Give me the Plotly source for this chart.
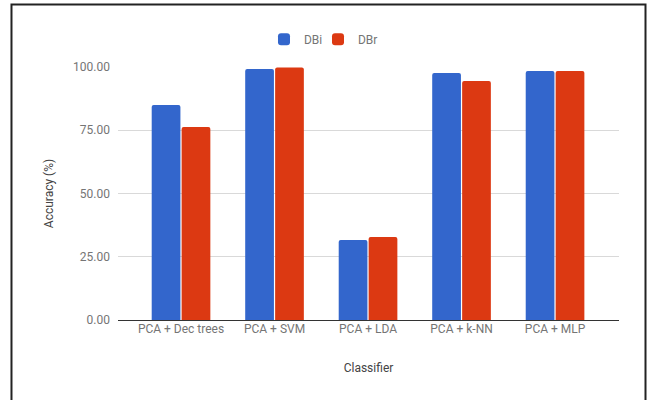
import plotly.graph_objects as go

# Classifier accuracy per database
classifiers = ["PCA + Dec trees", "PCA + SVM", "PCA + LDA", "PCA + k-NN", "PCA + MLP"]
dbi_accuracy = [85.0, 99.2, 31.6, 97.6, 98.4]
dbr_accuracy = [76.3, 99.8, 32.8, 94.5, 98.4]
y_ticks = [0, 25, 50, 75, 100]

font_family = "Roboto, Arial, sans-serif"
text_gray = "#757575"

fig = go.Figure()
fig.add_trace(go.Bar(name="DBi", x=classifiers, y=dbi_accuracy, legend="legend",
                     marker=dict(color="#3366CC", line=dict(width=0))))
fig.add_trace(go.Bar(name="DBr", x=classifiers, y=dbr_accuracy, legend="legend2",
                     marker=dict(color="#DC3912", line=dict(width=0))))

legend_style = dict(orientation="h", xanchor="left", y=1.11, yanchor="middle",
                    font=dict(size=12, color=text_gray), itemwidth=30,
                    bgcolor="rgba(0,0,0,0)", visible=True)

fig.update_layout(
    width=654, height=400,
    margin=dict(l=118, r=35, t=67, b=80, pad=0),
    paper_bgcolor="white", plot_bgcolor="white",
    showlegend=True,
    barmode="group", bargap=0.36, bargroupgap=0.04, barcornerradius=2,
    font=dict(family=font_family, size=12, color=text_gray),
    legend=dict(x=0.2914, **legend_style),
    legend2=dict(x=0.3992, **legend_style),
    xaxis=dict(
        type="category", range=[-0.674, 4.684],
        showgrid=False, showline=False, ticks="", zeroline=False,
        tickfont=dict(size=12, color=text_gray),
        title=dict(text="Classifier", standoff=28,
                   font=dict(size=12, color="#444444")),
    ),
    yaxis=dict(
        range=[0, 100], tickvals=y_ticks, tickformat=".2f",
        showgrid=True, gridcolor="#d9d9d9", gridwidth=1,
        zeroline=True, zerolinecolor="#333333", zerolinewidth=1,
        showline=False, ticks="", ticklabelstandoff=7,
        tickfont=dict(size=12, color=text_gray),
        title=dict(text="Accuracy (%)", standoff=16,
                   font=dict(size=12, color="#444444")),
    ),
    shapes=[dict(type="rect", xref="paper", yref="paper",
                 x0=-0.2126, x1=1.0529, y0=-0.4, y1=1.247,
                 line=dict(color="#222222", width=2), fillcolor="rgba(0,0,0,0)",
                 layer="above")],
)

fig.write_html("out.html")
